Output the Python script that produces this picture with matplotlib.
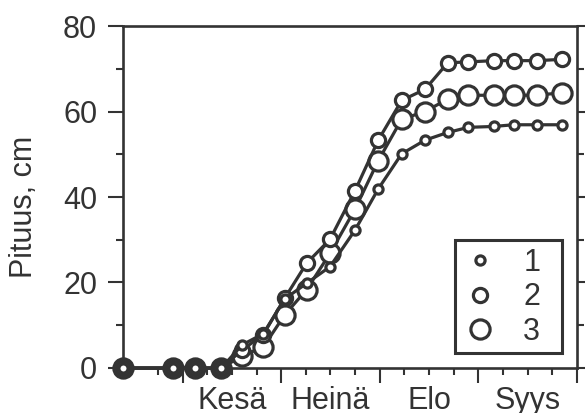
import numpy as np
import matplotlib
matplotlib.use("Agg")
import matplotlib.pyplot as plt
from matplotlib.ticker import FixedLocator, NullFormatter
from matplotlib.lines import Line2D
from matplotlib.patches import Rectangle

# measurement times, in weeks from the start of June
viikko = [-2.43, -0.39, 0.49, 1.57, 2.41, 3.27, 4.15, 5.03, 5.98, 6.99,
          7.94, 8.89, 9.84, 10.76, 11.6, 12.62, 13.43, 14.38, 15.39]

# height (cm) for the three groups
pituus_1 = [0, 0, 0, 0, 5.4, 8.0, 16.2, 19.8, 23.7, 32.2,
            41.9, 50.1, 53.3, 55.1, 56.3, 56.5, 56.9, 56.9, 56.9]
pituus_2 = [0, 0, 0, 0, 4.2, 7.8, 16.4, 24.5, 30.1, 41.4,
            53.3, 62.6, 65.2, 71.4, 71.6, 71.9, 71.9, 71.9, 72.2]
pituus_3 = [0, 0, 0, 0, 2.8, 4.9, 12.5, 18.3, 26.8, 37.1,
            48.5, 58.2, 60.0, 62.9, 63.8, 63.8, 63.8, 63.8, 64.4]

kuukaudet = ["Kesä", "Heinä", "Elo", "Syys"]
kk_paikat = [2, 6, 10, 14]
sarjat = ["1", "2", "3"]

ink = "#333333"
plt.rcParams["font.family"] = ["Liberation Sans", "DejaVu Sans"]
plt.rcParams["font.size"] = 22

fig = plt.figure(figsize=(5.85, 4.13), dpi=100)
ax = fig.add_axes([0.210, 0.109, 0.776, 0.828])

sizes = [6.6, 10.2, 13.8]
data = [pituus_1, pituus_2, pituus_3]
# biggest circles first so the small ones stay on top
for i in [2, 1, 0]:
    ax.plot(viikko, data[i], color=ink, lw=2.3, marker="o", ms=sizes[i],
            mfc="white", mec=ink, mew=2.3, clip_on=False, zorder=3 + (2 - i))

ax.set_xlim(-2.43, 16.0)
ax.set_ylim(0, 80)

# y axis: labels every 20, minor ticks every 10, ticks on both sides
ax.yaxis.set_major_locator(FixedLocator([0, 20, 40, 60, 80]))
ax.yaxis.set_minor_locator(FixedLocator([10, 30, 50, 70]))
ax.tick_params(axis="y", which="both", direction="out", left=True, right=True,
               colors=ink, width=1.5, pad=8)
ax.tick_params(axis="y", which="major", length=10.5)
ax.tick_params(axis="y", which="minor", length=5)

# x axis: month boundaries as major ticks, weeks as minor ticks,
# month names sit in the middle of each month
ax.xaxis.set_major_locator(FixedLocator([0, 4, 8, 12, 16]))
ax.xaxis.set_major_formatter(NullFormatter())
minor_x = [-1, 1, 2, 3, 5, 6, 7, 9, 10, 11, 13, 14, 15]
ax.xaxis.set_minor_locator(FixedLocator(minor_x))
ax.xaxis.set_minor_formatter(
    lambda v, pos: kuukaudet[kk_paikat.index(int(round(v)))]
    if int(round(v)) in kk_paikat else "")
ax.tick_params(axis="x", which="both", direction="out", colors=ink, width=1.5)
ax.tick_params(axis="x", which="major", length=10.5)
ax.tick_params(axis="x", which="minor", length=5, pad=8)

for s in ax.spines.values():
    s.set_color(ink)
    s.set_linewidth(1.9)

ax.set_ylabel("Pituus, cm", color=ink)
ax.yaxis.set_label_coords(-0.185, 0.47)

# legend entries without frame, box drawn separately
handles = [Line2D([], [], ls="none", marker="o", ms=sizes[i], mfc="white",
                  mec=ink, mew=2.3) for i in range(3)]
leg = ax.legend(handles, sarjat, loc="upper left",
                bbox_to_anchor=(0.727, 0.378), frameon=False,
                handletextpad=0.8, labelspacing=0.15,
                borderpad=0.3, handlelength=1.2, borderaxespad=0)
for t in leg.get_texts():
    t.set_color(ink)
ax.add_patch(Rectangle((0.731, 0.044), 0.236, 0.330, transform=ax.transAxes,
                       fill=False, edgecolor=ink, lw=2.2, zorder=6))

fig.savefig("out.png", dpi=100, facecolor="white")
